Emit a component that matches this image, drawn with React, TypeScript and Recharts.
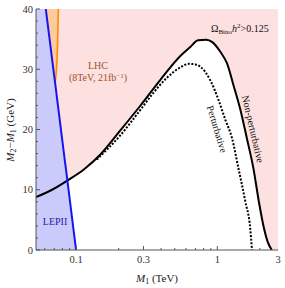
import { ComposedChart, Area, Line, XAxis, YAxis } from "recharts";

// axis range (TeV, log scale)
const X_MIN = 0.052;
const X_MAX = 2.69;

// relic density curves, M1 in TeV, M2-M1 in GeV
const NONPERT_M1 = [
  0.052, 0.0676, 0.0878, 0.114, 0.148, 0.205, 0.284, 0.394, 0.547, 0.644, 0.73,
  0.836, 0.922, 1.05, 1.17, 1.3, 1.46, 1.62, 1.8, 1.97, 2.14, 2.27, 2.43,
];
const NONPERT_DM = [
  8.8, 10.0, 11.6, 13.4, 15.8, 19.8, 23.9, 28.2, 32.2, 33.7, 34.8, 34.9, 34.5,
  32.9, 31.0, 27.4, 23.2, 18.5, 13.6, 8.0, 3.6, 1.4, 0,
];
const PERT_M1 = [
  0.14, 0.205, 0.284, 0.35, 0.44, 0.546, 0.63, 0.7, 0.76, 0.89, 1.02, 1.14,
  1.27, 1.41, 1.58, 1.71, 1.76,
];
const PERT_DM = [
  15.0, 19.0, 23.2, 26.0, 28.6, 30.3, 30.9, 30.8, 30.4, 28.2, 24.9, 21.6, 18.6,
  13.6, 8.0, 3.6, 0,
];

// exclusion boundaries
const LEP_M1 = [0.061, 0.1];
const LEP_DM = [40, 0];
const LHC_M1 = [0.071, 0.0737, 0.0749];
const LHC_DM = [27.7, 33, 40];

const X_TICKS = [
  0.06, 0.07, 0.08, 0.09, 0.1, 0.2, 0.3, 0.4, 0.5, 0.6, 0.7, 0.8, 0.9, 1, 2,
  X_MAX,
];
const X_LABELED = [0.1, 0.3, 1, X_MAX];
const Y_TICKS = [
  0, 2, 4, 6, 8, 10, 12, 14, 16, 18, 20, 22, 24, 26, 28, 30, 32, 34, 36, 38, 40,
];
const Y_LABELED = [0, 10, 20, 30, 40];

const FRAME = "#555";
const FONT = '"Liberation Serif", "DejaVu Serif", serif';

const toPoints = (xs: number[], ys: number[]) =>
  xs.map((x, i) => ({ x, y: ys[i] }));

const XTick = (props: any) => {
  const { x, y, payload, side } = props;
  const v = payload.value;
  const major = X_LABELED.includes(v);
  const len = major ? 4 : 2;
  const dir = side === "bottom" ? -1 : 1;
  return (
    <g>
      {v !== X_MAX && (
        <line x1={x} y1={y} x2={x} y2={y + dir * len} stroke={FRAME} />
      )}
      {side === "bottom" && major && (
        <text
          x={x}
          y={y + 13}
          textAnchor="middle"
          fontSize={10.5}
          fontFamily={FONT}
          fill="#333"
        >
          {Number(v.toPrecision(1))}
        </text>
      )}
    </g>
  );
};

const YTick = (props: any) => {
  const { x, y, payload, side } = props;
  const v = payload.value;
  const major = Y_LABELED.includes(v);
  const len = major ? 4 : 2;
  const dir = side === "left" ? 1 : -1;
  return (
    <g>
      <line x1={x} y1={y} x2={x + dir * len} y2={y} stroke={FRAME} />
      {side === "left" && major && (
        <text
          x={x - 3}
          y={y + 3.5}
          textAnchor="end"
          fontSize={10.5}
          fontFamily={FONT}
          fill="#333"
        >
          {v}
        </text>
      )}
    </g>
  );
};

export default function App() {
  const nonPert = toPoints(NONPERT_M1, NONPERT_DM);
  const pert = toPoints(PERT_M1, PERT_DM);
  const lepLine = toPoints(LEP_M1, LEP_DM);
  const lepArea = [{ x: X_MIN, y: LEP_DM[0] }, ...lepLine];
  const lhcLine = toPoints(LHC_M1, LHC_DM);
  const lhcArea = [
    { x: LEP_M1[0], r: [40, 40] },
    ...LHC_M1.map((x, i) => ({ x, r: [LHC_DM[i], 40] })),
  ];
  const background = [
    { x: X_MIN, y: 40 },
    { x: X_MAX, y: 40 },
  ];

  return (
    <div
      style={{
        position: "absolute",
        left: 0,
        top: 0,
        width: 285,
        height: 288,
        background: "#fff",
        fontFamily: FONT,
      }}
    >
      <ComposedChart
        width={285}
        height={288}
        margin={{ top: 9, right: 7, bottom: 0, left: 0 }}
      >
        <XAxis
          xAxisId="b"
          dataKey="x"
          type="number"
          scale="log"
          domain={[X_MIN, X_MAX]}
          allowDataOverflow
          ticks={X_TICKS}
          interval={0}
          height={38}
          tickSize={0}
          tickMargin={0}
          tickLine={false}
          axisLine={{ stroke: FRAME }}
          tick={(p: any) => <XTick {...p} side="bottom" />}
        />
        <XAxis
          xAxisId="t"
          orientation="top"
          dataKey="x"
          type="number"
          scale="log"
          domain={[X_MIN, X_MAX]}
          allowDataOverflow
          ticks={X_TICKS}
          interval={0}
          height={0}
          tickSize={0}
          tickMargin={0}
          tickLine={false}
          axisLine={{ stroke: FRAME }}
          tick={(p: any) => <XTick {...p} side="top" />}
        />
        <YAxis
          yAxisId="l"
          type="number"
          domain={[0, 40]}
          allowDataOverflow
          ticks={Y_TICKS}
          interval={0}
          width={36}
          tickSize={0}
          tickMargin={0}
          tickLine={false}
          axisLine={{ stroke: FRAME }}
          tick={(p: any) => <YTick {...p} side="left" />}
        />
        <YAxis
          yAxisId="r"
          orientation="right"
          type="number"
          domain={[0, 40]}
          allowDataOverflow
          ticks={Y_TICKS}
          interval={0}
          width={0}
          tickSize={0}
          tickMargin={0}
          tickLine={false}
          axisLine={{ stroke: FRAME }}
          tick={(p: any) => <YTick {...p} side="right" />}
        />

        <Area
          xAxisId="b"
          yAxisId="l"
          data={background}
          dataKey="y"
          type="linear"
          fill="#fde0e0"
          fillOpacity={1}
          stroke="none"
          isAnimationActive={false}
        />
        <Area
          xAxisId="b"
          yAxisId="l"
          data={nonPert}
          dataKey="y"
          type="monotone"
          fill="#ffffff"
          fillOpacity={1}
          stroke="none"
          isAnimationActive={false}
        />
        <Area
          xAxisId="b"
          yAxisId="l"
          data={lepArea}
          dataKey="y"
          type="linear"
          fill="#cacafb"
          fillOpacity={1}
          stroke="none"
          isAnimationActive={false}
        />
        <Area
          xAxisId="b"
          yAxisId="l"
          data={lhcArea}
          dataKey="r"
          type="linear"
          fill="#fcca9c"
          fillOpacity={1}
          stroke="none"
          isAnimationActive={false}
        />
        <Line
          xAxisId="b"
          yAxisId="l"
          data={pert}
          dataKey="y"
          type="monotone"
          stroke="#000"
          strokeWidth={2}
          strokeDasharray="2 1.6"
          dot={false}
          isAnimationActive={false}
        />
        <Line
          xAxisId="b"
          yAxisId="l"
          data={nonPert}
          dataKey="y"
          type="monotone"
          stroke="#000"
          strokeWidth={2}
          dot={false}
          isAnimationActive={false}
        />
        <Line
          xAxisId="b"
          yAxisId="l"
          data={lhcLine}
          dataKey="y"
          type="monotone"
          stroke="#ff8a00"
          strokeWidth={1.6}
          dot={false}
          isAnimationActive={false}
        />
        <Line
          xAxisId="b"
          yAxisId="l"
          data={lepLine}
          dataKey="y"
          type="linear"
          stroke="#1414f0"
          strokeWidth={2}
          dot={false}
          isAnimationActive={false}
        />
      </ComposedChart>

      <div
        style={{
          position: "absolute",
          left: 98,
          top: 71,
          transform: "translate(-50%, -50%)",
          textAlign: "center",
          color: "#a0502a",
          fontSize: 10,
          lineHeight: "11px",
          whiteSpace: "nowrap",
        }}
      >
        LHC
        <br />
        (8TeV, 21fb<sup style={{ fontSize: 7, verticalAlign: "3px" }}>−1</sup>)
      </div>
      <div
        style={{
          position: "absolute",
          left: 211,
          top: 22,
          fontSize: 10,
          color: "#111",
          whiteSpace: "nowrap",
        }}
      >
        Ω<sub style={{ fontSize: 7, verticalAlign: "-2px" }}>Bino</sub>
        <i>h</i>
        <sup style={{ fontSize: 7, verticalAlign: "4px" }}>2</sup>&gt;0.125
      </div>
      <div
        style={{
          position: "absolute",
          left: 253,
          top: 129,
          transform: "translate(-50%, -50%) rotate(77deg)",
          fontSize: 10,
          color: "#111",
          whiteSpace: "nowrap",
        }}
      >
        Non-perturbative
      </div>
      <div
        style={{
          position: "absolute",
          left: 217,
          top: 129,
          transform: "translate(-50%, -50%) rotate(73deg)",
          fontSize: 10,
          color: "#111",
          whiteSpace: "nowrap",
        }}
      >
        Perturbative
      </div>
      <div
        style={{
          position: "absolute",
          left: 55,
          top: 221,
          transform: "translate(-50%, -50%)",
          fontSize: 10,
          color: "#22229a",
          whiteSpace: "nowrap",
        }}
      >
        LEPII
      </div>
      <div
        style={{
          position: "absolute",
          left: 157,
          top: 279,
          transform: "translate(-50%, -50%)",
          fontSize: 11,
          color: "#222",
          whiteSpace: "nowrap",
        }}
      >
        <i>M</i>
        <sub style={{ fontSize: 8, verticalAlign: "-2px" }}>1</sub> (TeV)
      </div>
      <div
        style={{
          position: "absolute",
          left: 11,
          top: 130,
          transform: "translate(-50%, -50%) rotate(-90deg)",
          fontSize: 11,
          color: "#222",
          whiteSpace: "nowrap",
        }}
      >
        <i>M</i>
        <sub style={{ fontSize: 8, verticalAlign: "-2px" }}>2</sub>−<i>M</i>
        <sub style={{ fontSize: 8, verticalAlign: "-2px" }}>1</sub> (GeV)
      </div>
    </div>
  );
}
